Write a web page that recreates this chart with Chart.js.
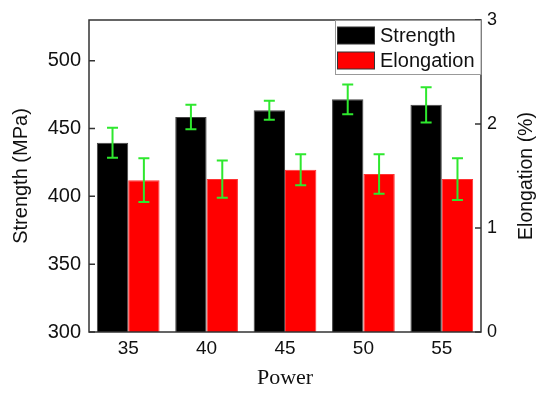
<!DOCTYPE html>
<html>
<head>
<meta charset="utf-8">
<script src="https://cdn.jsdelivr.net/npm/chart.js@4/dist/chart.umd.min.js"></script>
<style>
  body { margin: 0; background: #fff; }
  #chart { display: block; }
</style>
</head>
<body>
<canvas id="chart" width="538" height="393"></canvas>
<script>
const powers = ['35', '40', '45', '50', '55'];
const strength = [439.5, 458.5, 463.5, 471.5, 467.5];
const strengthErr = [11, 9, 7, 11, 13];
const elongation = [1.46, 1.47, 1.56, 1.52, 1.47];
const elongationErr = [0.21, 0.18, 0.15, 0.19, 0.20];
const strengthTicks = [300, 350, 400, 450, 500];
const elongationTicks = [0, 1, 2, 3];

const axisColor = '#333';
const errColor = '#2ee82e';

// error bars, drawn from the dataset scales
const errorBars = {
    id: 'errorBars',
    afterDatasetsDraw(chart) {
        const ctx = chart.ctx;
        chart.data.datasets.forEach((ds, i) => {
            const meta = chart.getDatasetMeta(i);
            const scale = chart.scales[ds.yAxisID];
            ctx.save();
            ctx.strokeStyle = errColor;
            ctx.lineWidth = 2;
            meta.data.forEach((bar, j) => {
                const v = ds.data[j], e = ds.errors[j];
                const yTop = scale.getPixelForValue(v + e);
                const yBot = scale.getPixelForValue(v - e);
                ctx.beginPath();
                ctx.moveTo(bar.x, yTop); ctx.lineTo(bar.x, yBot);
                ctx.moveTo(bar.x - 5.5, yTop); ctx.lineTo(bar.x + 5.5, yTop);
                ctx.moveTo(bar.x - 5.5, yBot); ctx.lineTo(bar.x + 5.5, yBot);
                ctx.stroke();
            });
            ctx.restore();
        });
    }
};

// frame, inward ticks, right title and boxed legend
const frame = {
    id: 'frame',
    afterDraw(chart) {
        const ctx = chart.ctx;
        const a = chart.chartArea;
        const yl = chart.scales.y, yr = chart.scales.y2;
        ctx.save();
        ctx.strokeStyle = axisColor;
        ctx.lineWidth = 1.5;
        ctx.strokeRect(a.left, a.top, a.right - a.left, a.bottom - a.top);
        ctx.beginPath();
        yl.ticks.forEach(t => {
            const y = yl.getPixelForValue(t.value);
            ctx.moveTo(a.left, y); ctx.lineTo(a.left + 6, y);
        });
        yr.ticks.forEach(t => {
            const y = yr.getPixelForValue(t.value);
            ctx.moveTo(a.right - 6, y); ctx.lineTo(a.right, y);
        });
        ctx.stroke();

        // right axis title reads bottom to top
        ctx.fillStyle = '#111';
        ctx.font = '19.5px "Liberation Sans", Arial, sans-serif';
        ctx.textAlign = 'center';
        ctx.textBaseline = 'middle';
        ctx.translate(527, (a.top + a.bottom) / 2);
        ctx.rotate(-Math.PI / 2);
        ctx.fillText('Elongation (%)', 0, 0);
        ctx.restore();

        // legend box
        ctx.save();
        const lx = 335, ly = a.top, lw = a.right - lx, lh = 54;
        ctx.fillStyle = '#fff';
        ctx.fillRect(lx, ly, lw, lh);
        ctx.strokeStyle = '#999';
        ctx.lineWidth = 1;
        ctx.strokeRect(lx + 0.5, ly + 0.5, lw - 0.5, lh);
        ctx.font = '20px "Liberation Sans", Arial, sans-serif';
        ctx.textBaseline = 'middle';
        chart.data.datasets.forEach((ds, i) => {
            const sy = ly + 7 + i * 25;
            ctx.fillStyle = ds.backgroundColor;
            ctx.fillRect(lx + 2.5, sy, 37, 17);
            ctx.strokeStyle = '#333';
            ctx.strokeRect(lx + 2.5, sy, 37, 17);
            ctx.fillStyle = '#111';
            ctx.fillText(ds.label, lx + 45, sy + 9);
        });
        ctx.restore();
    }
};

new Chart(document.getElementById('chart'), {
    type: 'bar',
    data: {
        labels: powers,
        datasets: [{
            label: 'Strength',
            data: strength,
            errors: strengthErr,
            yAxisID: 'y',
            backgroundColor: '#000',
            borderColor: '#444',
            borderWidth: 1
        }, {
            label: 'Elongation',
            data: elongation,
            errors: elongationErr,
            yAxisID: 'y2',
            backgroundColor: '#ff0000',
            borderColor: '#ff3333',
            borderWidth: 1
        }]
    },
    options: {
        responsive: false,
        animation: false,
        layout: { padding: { top: 16, left: 0, right: 0, bottom: 0 } },
        datasets: { bar: { categoryPercentage: 0.8, barPercentage: 1 } },
        plugins: { legend: { display: false }, tooltip: { enabled: false } },
        scales: {
            x: {
                grid: { display: false, drawTicks: false },
                border: { display: false },
                ticks: { color: '#111', padding: 5, font: { family: '"Liberation Sans", Arial', size: 19 } },
                title: {
                    display: true, text: 'Power', color: '#111',
                    font: { family: '"Liberation Serif", "Times New Roman", serif', size: 22 },
                    padding: { top: 4, bottom: 2 }
                },
                afterFit: s => { s.height = 61; }
            },
            y: {
                position: 'left',
                min: 300, max: 530,
                grid: { display: false, drawTicks: false },
                border: { display: false },
                afterBuildTicks: s => { s.ticks = strengthTicks.map(v => ({ value: v })); },
                ticks: { color: '#111', padding: 8, font: { family: '"Liberation Sans", Arial', size: 20 } },
                title: {
                    display: true, text: 'Strength (MPa)', color: '#111',
                    font: { family: '"Liberation Sans", Arial', size: 20 },
                    padding: { top: 9, bottom: 0 }
                },
                afterFit: s => { s.width = 89; }
            },
            y2: {
                position: 'right',
                min: 0, max: 3,
                grid: { display: false, drawTicks: false },
                border: { display: false },
                afterBuildTicks: s => { s.ticks = elongationTicks.map(v => ({ value: v })); },
                ticks: { color: '#111', padding: 6, font: { family: '"Liberation Sans", Arial', size: 18 } },
                afterFit: s => { s.width = 57; }
            }
        }
    },
    plugins: [errorBars, frame]
});
</script>
</body>
</html>
